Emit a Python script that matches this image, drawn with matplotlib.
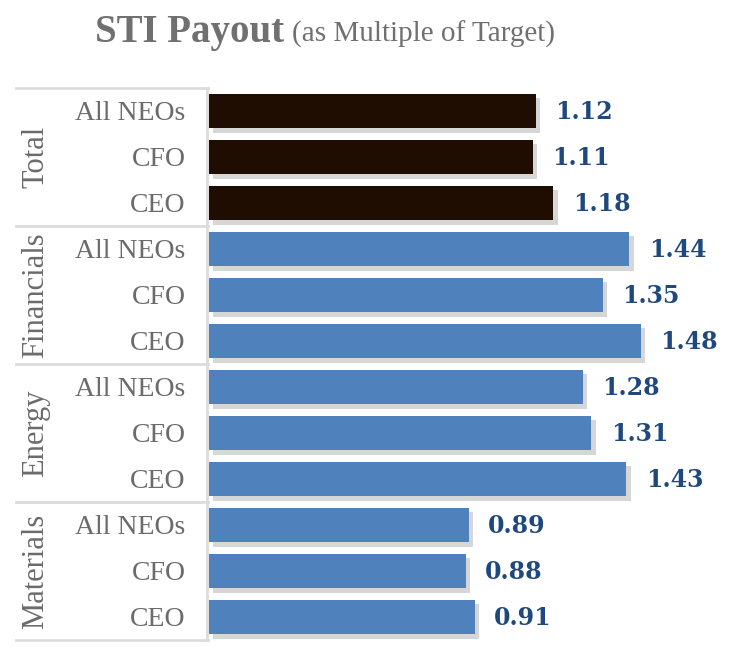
import matplotlib.pyplot as plt
import matplotlib.patheffects as pe
from matplotlib.transforms import blended_transform_factory
from matplotlib.lines import Line2D

groups = ["Total", "Financials", "Energy", "Materials"]
roles = ["All NEOs", "CFO", "CEO"]
values = [
    [1.12, 1.11, 1.18],  # Total
    [1.44, 1.35, 1.48],  # Financials
    [1.28, 1.31, 1.43],  # Energy
    [0.89, 0.88, 0.91],  # Materials
]
bar_colors = ["#200d02", "#4f81bd", "#4f81bd", "#4f81bd"]

W, H = 743, 667
fig = plt.figure(figsize=(W / 100, H / 100), dpi=100)
ax = fig.add_axes([209 / W, (H - 640) / H, 1 - 209 / W, (640 - 88) / H])

label_gray = "#6b6b6b"
val_color = "#1f497d"
line_gray = "#dcdcdc"

shadow = [pe.SimplePatchShadow(offset=(3, -3), shadow_rgbFace="#8c8c8c", alpha=0.35),
          pe.Normal()]

ypos = []
ylabels = []
row = 0
for g, grp in enumerate(groups):
    for r, role in enumerate(roles):
        v = values[g][r]
        b = ax.barh(row, v, height=0.76, color=bar_colors[g], zorder=3)
        for p in b.patches:
            p.set_path_effects(shadow)
        ax.annotate(f"{v:.2f}", xy=(v, row), xytext=(14, -1),
                    textcoords="offset points", va="center", ha="left",
                    fontsize=17, fontweight="bold", color=val_color,
                    family="DejaVu Serif")
        ypos.append(row)
        ylabels.append(role)
        row += 1

n = len(ypos)
ax.set_ylim(n - 0.5, -0.5)
ax.set_xlim(0, (W - 209) / 291.9)
ax.set_yticks(ypos)
ax.set_yticklabels(ylabels, fontsize=20, color=label_gray, family="Liberation Serif")
ax.tick_params(axis="y", length=0, pad=17)
ax.set_xticks([])
for s in ax.spines.values():
    s.set_visible(False)

# table-like lines on the left
tr = blended_transform_factory(fig.transFigure, ax.transData)
for k in range(len(groups) + 1):
    y = k * 3 - 0.5
    fig.add_artist(Line2D([16 / W, 208 / W], [y, y], transform=tr,
                          color=line_gray, lw=2))
fig.add_artist(Line2D([207 / W, 207 / W], [-0.5, n - 0.5], transform=tr,
                      color=line_gray, lw=2))

for g, grp in enumerate(groups):
    fig.text(36 / W, g * 3 + 1, grp, transform=tr, rotation=90, fontsize=22,
             color=label_gray, family="Liberation Serif", ha="center", va="center")

fig.text(95 / W, 1 - 42 / H, "STI Payout", fontsize=28, fontweight="bold",
         color="#707070", family="Liberation Serif", va="baseline")
fig.text(292 / W, 1 - 42 / H, "(as Multiple of Target)", fontsize=21,
         color="#707070", family="Liberation Serif", va="baseline")

fig.savefig("out.png", dpi=100)
